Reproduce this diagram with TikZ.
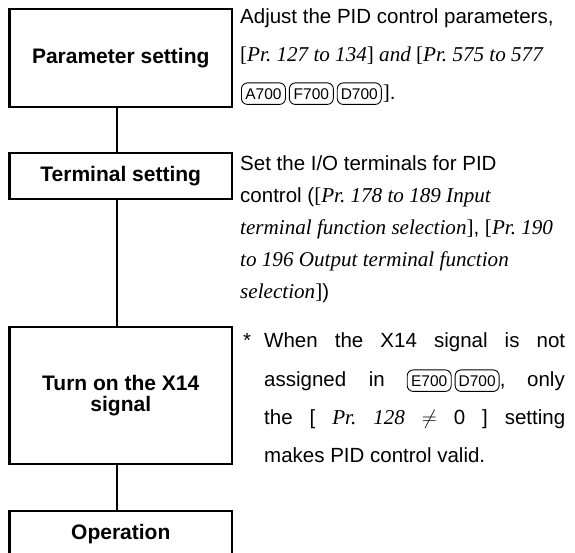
\documentclass[tikz,border=0pt]{standalone}
\usepackage{fontspec}
\setmainfont{Liberation Sans}
\newfontfamily\tnr{Liberation Serif}[Scale=1.03]
\newcommand\itser[1]{{\tnr\itshape #1}}
\newcommand\ser[1]{{\tnr #1}}
\frenchspacing
\begin{document}
\begin{tikzpicture}[x=1pt,y=-1pt,
  stepbox/.style={draw, line width=2.6pt, minimum width=222.5pt, inner sep=0pt, outer sep=0pt,
    font=\bfseries\fontsize{21}{21}\selectfont, align=center},
  conn/.style={line width=2.6pt},
  desc/.style={anchor=base west, inner sep=0pt, font=\fontsize{20.5}{24}\selectfont\frenchspacing},
  icon/.style={draw, rounded corners=6pt, line width=0.9pt, inner xsep=3.5pt, inner ysep=0pt,
    minimum width=44pt, minimum height=21.5pt, anchor=base west, font=\fontsize{15.5}{15.5}\selectfont}]
\useasboundingbox (0,0) rectangle (575,552);
\clip (0,0) rectangle (575,552);
% step boxes
\node[stepbox, minimum height=98pt] (b1) at (120.75,58) {Parameter setting};
\node[stepbox, minimum height=46pt] (b2) at (120.75,176) {Terminal setting};
\node[stepbox, minimum height=137pt] (b3) at (120.75,395.5) {Turn on the X14\\signal};
\node[stepbox, minimum height=46pt] (b4) at (120.75,534) {Operation};
% connectors
\coordinate (lx) at (117,0);
\draw[conn] (b1.south -| lx) -- (b2.north -| lx);
\draw[conn] (b2.south -| lx) -- (b3.north -| lx);
\draw[conn] (b3.south -| lx) -- (b4.north -| lx);
% block 1
\node[desc] (t11) at (240,23) {Adjust the PID control parameters,};
\node[desc] (t12) at (240,61) {\ser{[}\itser{Pr. 127 to 134}\ser{]}\itser{ and }\ser{[}\itser{Pr. 575 to 577}};
\node[icon] (i1a) at (241,99) {A700};
\node[icon] (i1b) at ([xshift=3pt]i1a.base east) {F700};
\node[icon] (i1c) at ([xshift=3pt]i1b.base east) {D700};
\node[desc] (t13) at ([xshift=1pt]i1c.base east) {\ser{]}.};
% block 2
\node[desc] (t21) at (240,170) {Set the I/O terminals for PID};
\node[desc] (t22) at (240,202) {control (\ser{[}\itser{Pr. 178 to 189 Input}};
\node[desc] (t23) at (240,234) {\itser{terminal function selection}\ser{]}, \ser{[}\itser{Pr. 190}};
\node[desc] (t24) at (240,266) {\itser{to 196 Output terminal function}};
\node[desc] (t25) at (240,298) {\itser{selection}\ser{]})};
% block 3
\node[desc] (ast) at (243,347) {*};
\node[desc] (t31) at (264,347) {\makebox[301pt][s]{When the X14 signal is not}};
\node[desc] (t32a) at (264,386) {assigned};
\node[desc, anchor=base east] (t32d) at (565,386) {, \hspace{16pt}only};
\node[icon, anchor=base east] (i3b) at (t32d.base west) {D700};
\node[icon, anchor=base east] (i3a) at ([xshift=-3pt]i3b.base west) {E700};
\node[desc, anchor=base east] (t32b) at ([xshift=-21.8pt]i3a.base west) {in};
\node[desc] (t33) at (264,424) {\makebox[301pt][s]{the [ \itser{Pr.} \itser{128} $\neq$ 0 ] setting}};
\node[desc] (t34) at (264,462) {makes PID control valid.};
\end{tikzpicture}
\end{document}
